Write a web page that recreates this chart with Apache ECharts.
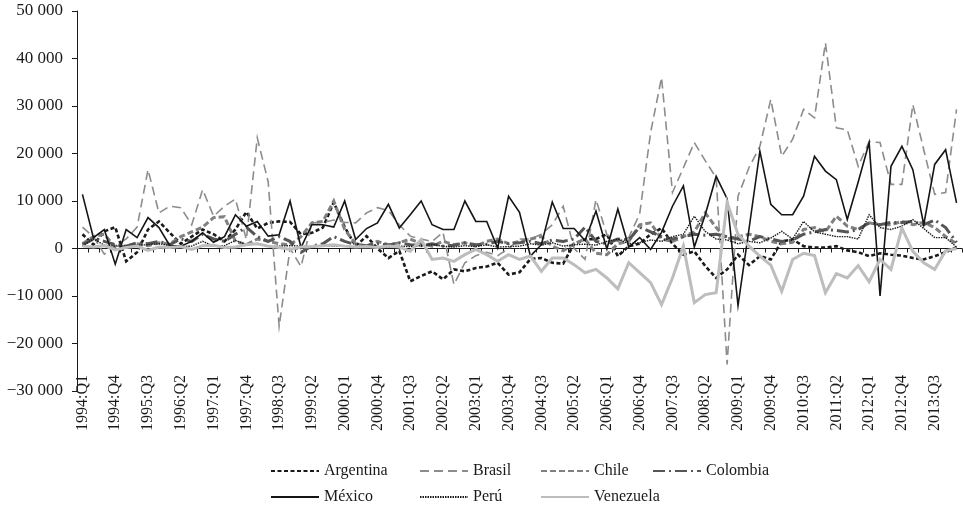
<!DOCTYPE html>
<html>
<head>
<meta charset="utf-8">
<script src="https://cdn.jsdelivr.net/npm/echarts@6/dist/echarts.min.js"></script>
<style>
html,body{margin:0;padding:0;background:#fff;}
#chart{width:963px;height:505px;}
</style>
</head>
<body>
<div id="chart"></div>
<script>
// Quarterly categories 1994:Q1 .. 2014:Q1
const categories = [];
for (let y = 1994; y <= 2014; y++) {
  for (let q = 1; q <= 4; q++) {
    if (y === 2014 && q > 1) break;
    categories.push(y + ':Q' + q);
  }
}

const yTicks = [-30000, -20000, -10000, 0, 10000, 20000, 30000, 40000, 50000];

const argentina = [3000,800,3600,4500,-2700,-800,4000,5700,3300,1000,
  2500,4000,3000,1500,4000,7700,4200,5400,5700,5600,
  3000,3300,4400,9700,4500,500,2600,0,-2000,-500,
  -6900,-5800,-4800,-6500,-4400,-4800,-4100,-3800,-3000,-5500,
  -5000,-2200,-2000,-3000,-3200,1000,1900,2000,3000,-1600,
  500,1000,3000,4300,1000,-1300,-600,-3700,-6200,-4400,
  -1300,-3500,-1600,-2300,1500,1900,500,200,200,500,
  -400,-800,-1600,-1000,-1300,-1500,-2000,-2300,-1600,-800,
  300];

const brasil = [4500,2500,-1200,500,2000,4500,16600,7500,8900,8600,
  5000,12400,6800,8900,10400,1900,23300,14000,-16400,0,
  -3800,5400,5500,6000,5500,5400,7500,8600,8000,5000,
  2600,2000,1500,3400,-7600,-3000,-1500,-800,-1500,0,
  2000,2000,3000,5000,8900,0,-2300,10300,2900,1500,
  2300,7300,24400,36000,11800,17000,22300,18500,14900,-24400,
  11000,17000,21500,31400,19400,23000,29300,27500,43300,25400,
  25000,17300,22500,22300,13500,13500,30300,20800,11400,11800,
  29300];

const chile = [1000,2500,3000,300,500,1000,600,1200,1000,2500,
  3500,4500,6500,6700,1500,800,2000,1500,1000,800,
  2500,5400,5700,10000,4000,1000,500,1500,800,1200,
  2000,1000,500,1500,800,1200,500,1500,2000,1000,
  1500,2000,2500,500,-500,1000,2000,-1000,-1300,1000,
  1500,5000,5400,2000,1500,2500,3500,7500,4400,2000,
  2500,3000,2500,1500,1000,1300,4000,4400,3500,6800,
  4700,4000,5400,5000,5000,5700,5000,5500,4400,2500,
  1000];

const colombia = [800,2000,1500,800,500,1200,1000,1500,800,2000,
  1500,3000,2000,1500,3000,4500,2500,1500,2500,1500,
  -800,500,1000,2500,1500,800,600,1000,700,1200,
  800,600,1000,500,700,1200,800,900,1500,1000,
  1200,1500,1000,1800,1500,2000,4500,1500,1000,2000,
  1800,4500,3500,2500,2000,2500,3000,2800,3000,2500,
  2000,1500,2500,2000,1500,1800,3000,3500,4000,3800,
  3500,4000,5400,5000,5500,5500,5700,5000,6000,4400,
  1300];

const mexico = [11400,2300,4000,-3300,4000,2300,6500,4400,600,500,
  1500,3300,1300,2500,7100,4700,5700,2600,2900,10000,
  200,5000,5000,4500,10000,1900,4200,5400,9300,4300,
  7100,10000,5000,4000,4000,10000,5700,5700,100,11000,
  7600,-1600,800,9800,4200,4200,1700,7900,-100,8300,
  300,2300,-200,3400,8900,13200,300,7100,15200,10500,
  -12000,4000,20500,9300,7100,7100,11000,19400,16300,14500,
  6100,14000,22300,-10000,17300,21500,16600,5000,17700,20800,
  9600];

const peru = [500,2000,700,500,500,700,800,1000,600,400,
  500,1500,500,600,1700,800,1000,400,500,600,
  500,300,700,500,600,300,500,400,300,500,
  400,600,800,500,300,600,400,800,300,400,
  500,1000,700,1200,500,800,900,700,1500,2000,
  1000,1200,1800,1500,2500,3000,6800,3600,2000,1800,
  1000,1500,1200,2200,3600,2000,5700,3500,3000,2500,
  2500,2000,7100,4400,4000,4700,6100,4200,2300,2300,
  300];

const venezuela = [500,300,600,-300,200,500,-400,300,200,400,
  -200,600,700,200,300,800,1000,500,200,-200,
  300,400,600,800,500,300,400,200,500,300,
  -600,1900,-2300,-2000,-2700,-1300,-200,-1300,-2700,-1300,
  -2300,-1600,-4800,-2000,-2000,-3400,-5100,-4400,-6200,-8500,
  -3000,-5100,-7200,-11800,-6200,500,-11400,-9700,-9300,9700,
  3000,500,-1600,-3500,-9000,-2300,-1000,-1500,-9300,-5300,
  -6200,-3600,-7000,-2300,-4400,4300,-600,-3000,-4400,-500,
  0];

const FONT = '"Liberation Serif", "DejaVu Serif", serif';
const TEXT_COLOR = '#1a1a1a';

function fmt(v) {
  const s = String(Math.abs(v)).replace(/\B(?=(\d{3})+(?!\d))/g, ' ');
  return v < 0 ? '\u2212' + s : s;
}

const seriesDefs = [
  { name: 'Argentina', data: argentina, color: '#1a1a1a', width: 2.6, type: [4, 2.5] },
  { name: 'Brasil', data: brasil, color: '#8c8c8c', width: 1.6, type: [9, 5] },
  { name: 'Chile', data: chile, color: '#808080', width: 3, type: [6, 3] },
  { name: 'Colombia', data: colombia, color: '#555555', width: 3, type: [12, 4, 2, 4] },
  { name: 'México', data: mexico, color: '#141414', width: 1.6, type: 'solid' },
  { name: 'Perú', data: peru, color: '#1a1a1a', width: 1.4, type: [1.5, 1] },
  { name: 'Venezuela', data: venezuela, color: '#bdbdbd', width: 3, type: 'solid' }
];

const legendPos = {
  'Argentina': [265, 458], 'Brasil': [414, 458], 'Chile': [535, 458], 'Colombia': [647, 458],
  'México': [265, 484], 'Perú': [414, 484], 'Venezuela': [535, 484]
};

const chart = echarts.init(document.getElementById('chart'), null, { renderer: 'canvas' });

const option = {
  animation: false,
  backgroundColor: '#ffffff',
  textStyle: { fontFamily: FONT, fontSize: 16, color: TEXT_COLOR },
  grid: { left: 77, right: 1, top: 11, bottom: 114, containLabel: false },
  legend: seriesDefs.map(s => ({
    data: [s.name],
    left: legendPos[s.name][0],
    top: legendPos[s.name][1],
    itemWidth: 48,
    itemHeight: 12,
    selectedMode: false,
    itemStyle: { opacity: 0 },
    textStyle: { fontFamily: FONT, fontSize: 16, color: TEXT_COLOR }
  })),
  xAxis: [
    {
      type: 'category',
      data: categories,
      boundaryGap: true,
      axisLine: { show: true, onZero: true, lineStyle: { color: '#1a1a1a', width: 1 } },
      axisTick: { show: true, interval: 0, length: 4, lineStyle: { color: '#1a1a1a' } },
      axisLabel: { show: false },
      splitLine: { show: false }
    },
    {
      type: 'category',
      data: categories,
      boundaryGap: true,
      position: 'bottom',
      offset: -24,
      axisLine: { show: false, onZero: false },
      axisTick: { show: false },
      axisLabel: {
        show: true, interval: 2, rotate: 90, margin: 8,
        fontFamily: FONT, fontSize: 16, color: TEXT_COLOR
      },
      splitLine: { show: false }
    }
  ],
  yAxis: {
    type: 'value',
    min: yTicks[0],
    max: yTicks[yTicks.length - 1],
    interval: 10000,
    axisLine: { show: true, lineStyle: { color: '#1a1a1a', width: 1 } },
    axisTick: { show: true, length: 5, lineStyle: { color: '#1a1a1a' } },
    splitLine: { show: false },
    axisLabel: {
      margin: 14, fontFamily: FONT, fontSize: 17, color: TEXT_COLOR,
      formatter: v => fmt(v)
    }
  },
  series: seriesDefs.map(s => ({
    name: s.name,
    type: 'line',
    xAxisIndex: 0,
    data: s.data,
    symbol: 'none',
    showSymbol: false,
    smooth: false,
    color: s.color,
    lineStyle: { color: s.color, width: s.width, type: s.type, cap: 'butt', join: 'miter' },
    emphasis: { disabled: true }
  }))
};

chart.setOption(option);
</script>
</body>
</html>
